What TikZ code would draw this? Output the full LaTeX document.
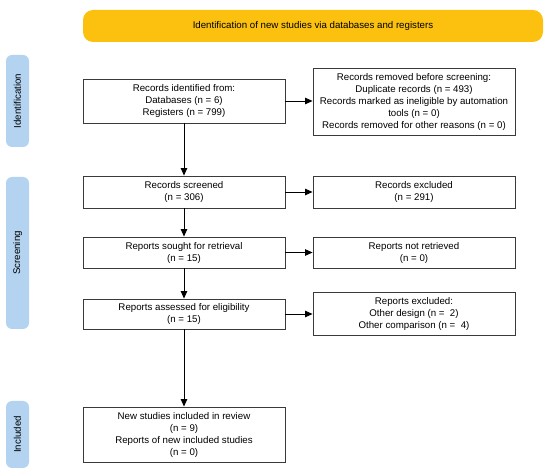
\documentclass[tikz,border=0pt]{standalone}
\usepackage{fontspec}
\setmainfont{Liberation Sans}
\usetikzlibrary{arrows.meta}
\definecolor{banner}{HTML}{FBC10E}
\definecolor{tabblue}{HTML}{B3D3F1}
\definecolor{boxline}{HTML}{3A3A3A}
\begin{document}
\begin{tikzpicture}[x=1pt,y=1pt,
  every node/.style={font=\fontsize{9.7}{12}\selectfont, inner sep=0pt},
  flowbox/.style={draw=boxline, line width=0.9pt, rectangle, minimum width=202pt, align=center},
  tabbox/.style={fill=tabblue, rounded corners=6pt, minimum width=23pt},
  conn/.style={-{Triangle[length=7.5pt,width=6.5pt]}, line width=0.8pt, black}]
\useasboundingbox (0,0) rectangle (550,-473);
\node[fill=banner, rounded corners=10pt, minimum width=460pt, minimum height=32pt] (banner) at (313,-26) {Identification of new studies via databases and registers};
\node[tabbox, minimum height=92pt] (tid) at (17.5,-101) {};
\node[rotate=90] (tidl) at (tid.center) {Identification};
\node[tabbox, minimum height=152pt] (tsc) at (17.5,-253) {};
\node[rotate=90] (tscl) at (tsc.center) {Screening};
\node[tabbox, minimum height=67pt] (tin) at (17.5,-434.5) {};
\node[rotate=90] (tinl) at (tin.center) {Included};
\node[flowbox, minimum height=44pt] (ident) at (184,-101) {Records identified from:\\Databases (n = 6)\\Registers (n = 799)};
\node[flowbox, minimum height=67pt] (removed) at (414,-101.5) {Records removed before screening:\\Duplicate records (n = 493)\\Records marked as ineligible by automation\\tools (n = 0)\\Records removed for other reasons (n = 0)};
\node[flowbox, minimum height=32pt] (screened) at (184,-192) {Records screened\\(n = 306)};
\node[flowbox, minimum height=32pt] (excluded) at (414,-192) {Records excluded\\(n = 291)};
\node[flowbox, minimum height=31pt] (sought) at (184,-252.5) {Reports sought for retrieval\\(n = 15)};
\node[flowbox, minimum height=31pt] (notret) at (414,-252.5) {Reports not retrieved\\(n = 0)};
\node[flowbox, minimum height=30pt] (assessed) at (184,-314) {Reports assessed for eligibility\\(n = 15)};
\node[flowbox, minimum height=43pt] (repexcl) at (414,-313.5) {Reports excluded:\\Other design (n =\ \ 2)\\Other comparison (n =\ \ 4)};
\node[flowbox, minimum height=55pt] (included) at (184,-434.5) {New studies included in review\\(n = 9)\\Reports of new included studies\\(n = 0)};
\draw[conn] (ident) -- (ident -| removed.west);
\draw[conn] (ident) -- (screened);
\draw[conn] (screened) -- (excluded);
\draw[conn] (screened) -- (sought);
\draw[conn] (sought) -- (notret);
\draw[conn] (sought) -- (assessed);
\draw[conn] (assessed) -- (assessed -| repexcl.west);
\draw[conn] (assessed) -- (included);
\end{tikzpicture}
\end{document}
